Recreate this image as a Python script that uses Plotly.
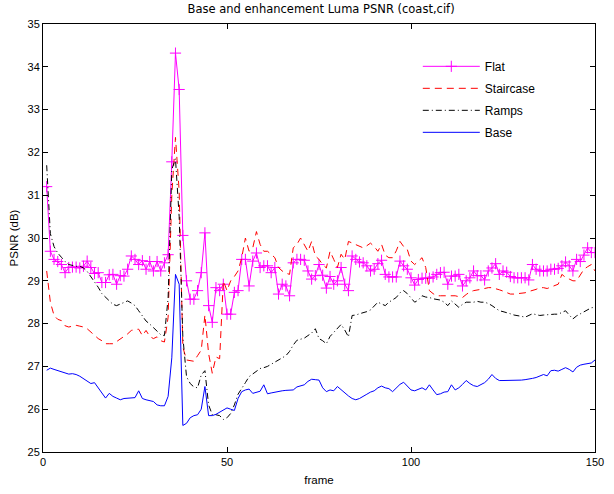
import plotly.graph_objects as go

frames = list(range(1, 151))

flat = [31.2, 29.69, 29.50, 29.45, 29.38, 29.19, 29.31, 29.32, 29.32, 29.30,
        29.34, 29.46, 29.31, 29.17, 29.19, 28.96, 28.96, 29.14, 29.15, 28.92,
        29.12, 29.11, 29.27, 29.58, 29.50, 29.38, 29.47, 29.27, 29.45, 29.23,
        29.45, 29.23, 29.42, 29.61, 31.78, 34.32, 33.47, 30.06, 29.0, 28.57,
        28.57, 28.77, 29.19, 30.12, 28.42, 28.03, 28.84, 28.77, 28.92, 28.22,
        28.22, 28.73, 28.77, 29.5, 29.5, 28.88, 29.46, 29.65, 29.31, 29.35,
        29.35, 29.19, 29.31, 28.69, 28.92, 28.88, 28.65, 29.42, 29.50, 29.50,
        29.48, 29.23, 29.04, 29.12, 29.38, 29.13, 28.83, 29.10, 28.92, 29.0,
        29.31, 28.92, 28.77, 29.58, 29.50, 29.44, 29.42, 29.35, 29.23, 29.27,
        29.40, 29.48, 29.15, 29.09, 29.09, 29.09, 29.46, 29.35, 29.27, 29.07,
        28.9, 29.03, 29.06, 29.06, 29.06, 29.09, 29.15, 29.19, 29.2, 28.92,
        29.11, 29.11, 29.15, 28.88, 29.0, 29.07, 29.23, 29.12, 29.12, 29.02,
        29.23, 29.30, 29.4, 29.15, 29.23, 29.20, 29.10, 29.07, 29.07, 29.07,
        29.07, 29.02, 29.38, 29.27, 29.23, 29.23, 29.23, 29.27, 29.27, 29.29,
        29.35, 29.44, 29.35, 29.23, 29.5, 29.45, 29.60, 29.77, 29.66, 29.66]

staircase = [29.23, 28.5, 28.19, 28.1, 28.07, 27.95, 27.92, 27.94, 27.96, 27.94,
             27.92, 27.88, 27.80, 27.72, 27.65, 27.60, 27.53, 27.53, 27.53, 27.58,
             27.63, 27.70, 27.76, 27.84, 27.86, 27.87, 27.72, 27.84, 27.70, 27.65,
             27.69, 27.60, 27.57, 28.15, 31.0, 32.35, 31.1, 27.45, 27.15, 27.13,
             27.12, 27.25, 27.38, 28.2, 27.3, 26.84, 27.22, 27.18, 29.0, 28.77,
             29.0, 29.1, 29.23, 29.54, 30.0, 29.69, 29.77, 30.15, 29.85, 29.69,
             29.69, 29.62, 29.54, 29.31, 29.23, 29.18, 29.15, 29.77, 29.85, 30.0,
             29.85, 29.69, 29.92, 29.58, 29.5, 29.38, 29.3, 29.69, 29.50, 29.31,
             29.62, 29.5, 29.92, 29.88, 29.85, 29.80, 29.77, 29.82, 29.88, 29.80,
             29.69, 29.85, 29.6, 29.54, 29.54, 29.7, 29.92, 29.8, 29.73, 29.46,
             29.38, 29.46, 29.54, 29.31, 28.77, 28.7, 28.65, 28.65, 28.65, 28.65,
             28.65, 28.65, 28.63, 28.61, 28.68, 28.74, 28.77, 28.78, 28.8, 28.82,
             28.84, 28.84, 28.82, 28.79, 28.76, 28.73, 28.69, 28.69, 28.70, 28.70,
             28.72, 28.75, 28.77, 28.80, 28.84, 28.84, 28.82, 28.85, 28.89, 28.92,
             29.15, 29.08, 29.04, 29.0, 29.0, 29.15, 29.27, 29.33, 29.38, 29.23]

ramps = [31.7, 30.1, 29.8, 29.65, 29.55, 29.45, 29.38, 29.36, 29.34, 29.34,
         29.3, 29.22, 29.1, 28.98, 28.85, 28.7, 28.62, 28.55, 28.45, 28.42,
         28.46, 28.5, 28.53, 28.48, 28.42, 28.3, 28.18, 28.06, 27.99, 27.9,
         27.82, 27.74, 27.72, 28.6, 31.6, 31.85, 30.5, 27.69, 26.76, 26.6,
         26.52, 26.5, 26.8, 26.9, 26.1, 25.87, 25.87, 25.85, 25.76, 25.8,
         25.9, 26.1, 26.35, 26.5, 26.62, 26.76, 26.82, 26.88, 26.95, 26.97,
         27.0, 27.05, 27.1, 27.15, 27.2, 27.25, 27.35, 27.5, 27.61, 27.64,
         27.66, 27.72, 27.78, 27.88, 27.65, 27.6, 27.53, 27.7, 27.8, 27.9,
         27.98, 27.85, 27.69, 28.19, 28.2, 28.23, 28.25, 28.28, 28.32, 28.4,
         28.5, 28.46, 28.42, 28.5, 28.55, 28.61, 28.72, 28.77, 28.7, 28.6,
         28.5, 28.55, 28.65, 28.62, 28.61, 28.58, 28.57, 28.55, 28.5, 28.42,
         28.53, 28.45, 28.38, 28.45, 28.5, 28.5, 28.5, 28.52, 28.5, 28.5,
         28.47, 28.42, 28.36, 28.3, 28.28, 28.26, 28.23, 28.2, 28.19, 28.17,
         28.15, 28.2, 28.23, 28.21, 28.19, 28.2, 28.21, 28.22, 28.22, 28.22,
         28.27, 28.3, 28.2, 28.11, 28.18, 28.23, 28.28, 28.34, 28.37, 28.38]

base = [26.91, 26.96, 26.93, 26.9, 26.87, 26.84, 26.82, 26.83, 26.81, 26.77,
        26.72, 26.66, 26.6, 26.62, 26.5, 26.38, 26.26, 26.37, 26.3, 26.26,
        26.22, 26.25, 26.26, 26.26, 26.27, 26.43, 26.25, 26.22, 26.2, 26.18,
        26.1, 26.08, 26.08, 26.3, 27.2, 29.15, 28.92, 25.62, 25.67, 25.8,
        25.85, 25.87, 26.0, 26.53, 25.85, 25.85, 25.88, 25.93, 25.98, 26.03,
        26.0, 25.97, 26.25, 26.41, 26.45, 26.47, 26.37, 26.4, 26.42, 26.57,
        26.36, 26.38, 26.4, 26.42, 26.43, 26.44, 26.45, 26.45, 26.52, 26.55,
        26.57, 26.65, 26.70, 26.69, 26.68, 26.5, 26.41, 26.45, 26.43, 26.53,
        26.45, 26.38, 26.31, 26.25, 26.22, 26.25, 26.31, 26.35, 26.4, 26.43,
        26.5, 26.54, 26.5, 26.48, 26.41, 26.5, 26.58, 26.63, 26.55, 26.45,
        26.43, 26.47, 26.5, 26.45, 26.57, 26.45, 26.34, 26.36, 26.4, 26.41,
        26.57, 26.45, 26.5, 26.58, 26.67, 26.6, 26.55, 26.53, 26.58, 26.62,
        26.7, 26.81, 26.72, 26.67, 26.67, 26.67, 26.67, 26.67, 26.68, 26.68,
        26.69, 26.70, 26.72, 26.74, 26.77, 26.81, 26.78, 26.9, 26.91, 26.89,
        26.93, 26.97, 26.93, 26.87, 26.98, 27.03, 27.05, 27.07, 27.08, 27.15]

x_ticks = [0, 50, 100, 150]
y_ticks = [25, 26, 27, 28, 29, 30, 31, 32, 33, 34, 35]

FONT = "Liberation Sans, Arial, Helvetica, sans-serif"

fig = go.Figure()
fig.add_trace(go.Scatter(
    x=frames, y=flat, name="Flat", mode="lines+markers",
    line=dict(color="#ff00ff", width=1),
    marker=dict(symbol="cross-thin", size=8, color="#ff00ff",
                line=dict(width=1, color="#ff00ff")),
    legendgroup="a"))
fig.add_trace(go.Scatter(
    x=frames, y=staircase, name="Staircase", mode="lines",
    line=dict(color="#ff0000", width=1, dash="7px,5px"),
    legendgroup="b"))
fig.add_trace(go.Scatter(
    x=frames, y=ramps, name="Ramps", mode="lines",
    line=dict(color="#000000", width=1, dash="6px,3px,1px,3px"),
    legendgroup="c"))
fig.add_trace(go.Scatter(
    x=frames, y=base, name="Base", mode="lines",
    line=dict(color="#0000ff", width=1),
    legendgroup="d"))

axis_common = dict(
    showgrid=False, zeroline=False, showline=True, linecolor="black",
    linewidth=1, mirror="ticks", ticks="inside", ticklen=5, tickcolor="black",
    tickfont=dict(family=FONT, size=11, color="black"),
)

fig.update_layout(
    width=614, height=494,
    margin=dict(l=43, r=10, t=24, b=38),
    paper_bgcolor="white", plot_bgcolor="white",
    title=dict(text="Base and enhancement Luma PSNR (coast,cif)",
               x=0.523, xanchor="center", y=0.981, yanchor="middle",
               font=dict(family="DejaVu Sans, sans-serif", size=11.5,
                         color="black")),
    xaxis=dict(range=[0, 150], tickvals=x_ticks,
               title=dict(text="frame", standoff=8,
                          font=dict(family=FONT, size=11.5, color="black")),
               **axis_common),
    yaxis=dict(range=[25, 35], tickvals=y_ticks,
               title=dict(text="PSNR (dB)", standoff=6,
                          font=dict(family=FONT, size=11.5, color="black")),
               **axis_common),
    legend=dict(x=0.679, y=0.935, xanchor="left", yanchor="top",
                bgcolor="rgba(0,0,0,0)", borderwidth=0, itemwidth=57,
                font=dict(family=FONT, size=12, color="black"),
                tracegroupgap=3),
    showlegend=True,
)

fig.write_html("out.html", config={"displayModeBar": False},
               post_script="document.body.style.margin='0';")
